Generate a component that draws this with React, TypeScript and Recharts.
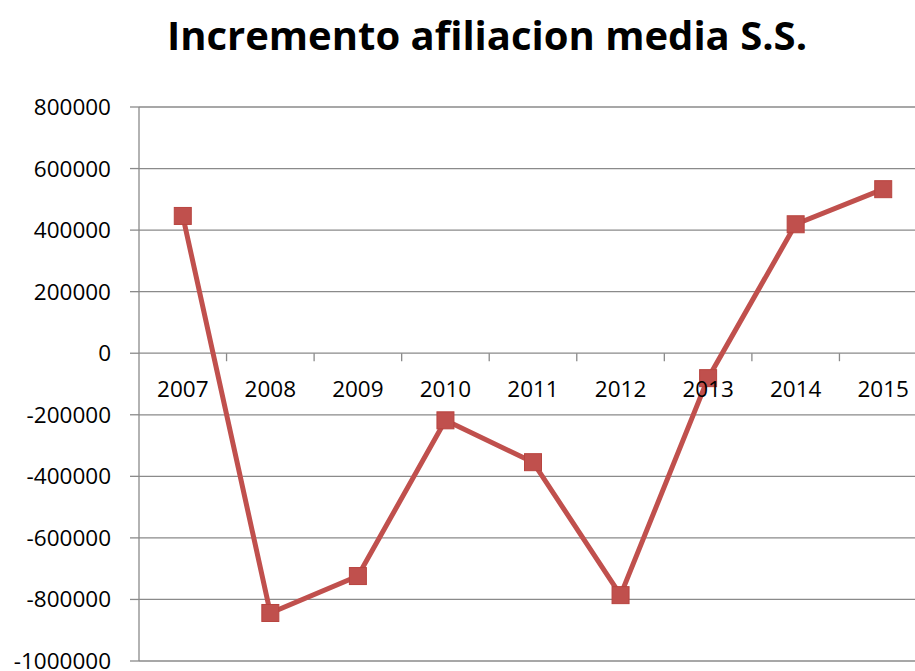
import { CartesianGrid, Line, LineChart, XAxis, YAxis } from "recharts";

const years = ["2007", "2008", "2009", "2010", "2011", "2012", "2013", "2014", "2015"];
const increments = [446000, -844000, -724000, -218000, -354000, -786000, -81000, 419000, 533000];
const yTicks = [-1000000, -800000, -600000, -400000, -200000, 0, 200000, 400000, 600000, 800000];

const data = years.map((year, i) => ({ year, value: increments[i] }));

const CHART_W = 940;
const CHART_H = 671;
const X_AXIS_H = 1;
const MARGIN = { top: 107, right: 13, bottom: 9, left: 0 };
const Y_AXIS_W = 139;
const PLOT_W = CHART_W - MARGIN.left - MARGIN.right - Y_AXIS_W;
const PLOT_H = CHART_H - MARGIN.top - MARGIN.bottom - X_AXIS_H;
const Y_MIN = yTicks[0];
const Y_MAX = yTicks[yTicks.length - 1];
const ZERO_Y = MARGIN.top + (PLOT_H * Y_MAX) / (Y_MAX - Y_MIN);
const HALF_BAND = PLOT_W / years.length / 2;

const FONT = "'Open Sans', sans-serif";
const RED = "#C0504D";
const GRID = "#8a8a8a";

// category labels sit under the zero line, like Excel's "axis crosses at 0"
const YearTick = (props: any) => {
  const { x, payload } = props;
  return (
    <g>
      <line x1={x + HALF_BAND} x2={x + HALF_BAND} y1={ZERO_Y} y2={ZERO_Y + 8} stroke={GRID} strokeWidth={1.3} />
      <text x={x} y={ZERO_Y + 35} textAnchor="middle" dominantBaseline="central" fontSize={22.5} fontFamily={FONT} fill="#000">
        {payload.value}
      </text>
    </g>
  );
};

const SquareDot = (props: any) => {
  const { cx, cy, index } = props;
  if (cx == null || cy == null) return null;
  return <rect key={index} x={cx - 8.5} y={cy - 8.5} width={17} height={17} fill={RED} stroke="#b8443f" strokeWidth={1} />;
};

export default function App() {
  return (
    <div style={{ position: "absolute", left: 0, top: 0, width: 915, height: 671, overflow: "hidden", background: "#fff" }}>
      <div
        style={{
          position: "absolute",
          left: 0,
          top: 9,
          width: 974,
          textAlign: "center",
          fontFamily: FONT,
          fontWeight: 700,
          fontSize: 40,
          lineHeight: "52px",
          color: "#000",
        }}
      >
        Incremento afiliacion media S.S.
      </div>
      <LineChart width={CHART_W} height={CHART_H} data={data} margin={MARGIN}>
        <CartesianGrid vertical={false} stroke={GRID} strokeWidth={1.3} />
        <XAxis
          dataKey="year"
          scale="band"
          height={X_AXIS_H}
          axisLine={false}
          tickLine={false}
          tick={<YearTick />}
          interval={0}
        />
        <YAxis
          width={Y_AXIS_W}
          domain={[Y_MIN, Y_MAX]}
          ticks={yTicks}
          interval={0}
          tickSize={9}
          tickMargin={19}
          axisLine={{ stroke: GRID, strokeWidth: 1.3 }}
          tickLine={{ stroke: GRID, strokeWidth: 1.3 }}
          tick={{ fontSize: 22.5, fontFamily: FONT, fill: "#000" }}
        />
        <Line
          type="linear"
          dataKey="value"
          stroke={RED}
          strokeWidth={5}
          dot={<SquareDot />}
          activeDot={false}
          isAnimationActive={false}
        />
      </LineChart>
    </div>
  );
}
